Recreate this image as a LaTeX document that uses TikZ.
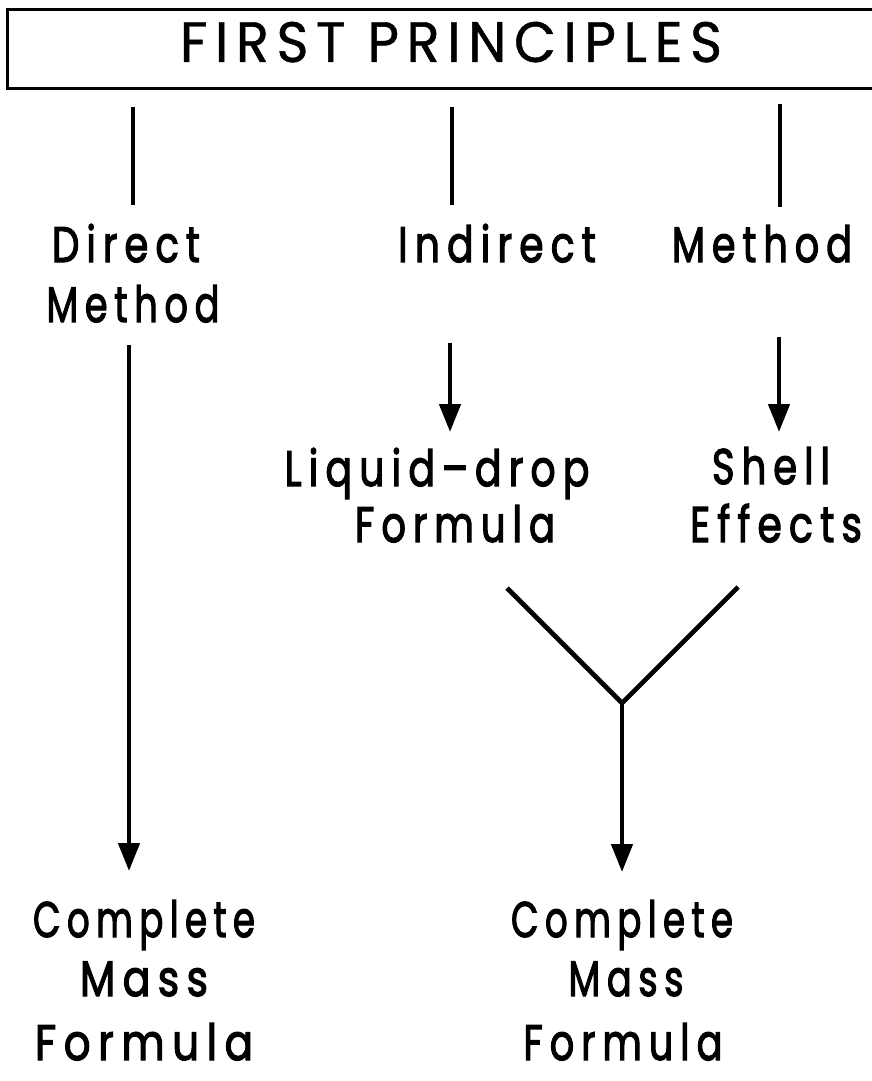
\documentclass[tikz,border=0pt]{standalone}
\usepackage{fontspec}
\usepackage{graphicx}
\usetikzlibrary{arrows.meta}
\newfontfamily\lbl[LetterSpace=18,FakeBold=2.6]{Poppins}
\newfontfamily\ttl[LetterSpace=14,FakeBold=0.8]{Poppins}
\newcommand\fitw[2]{\resizebox{#1}{\height}{#2}}
\begin{document}
\begin{tikzpicture}[x=1pt,y=-1pt,
  lab/.style={font=\lbl\fontsize{50}{60}\selectfont, inner sep=0pt, anchor=base},
  conn/.style={line width=4.6pt},
  arr/.style={conn,-{Triangle[length=28pt,width=21pt]}}]
\useasboundingbox (0,0) rectangle (872,1081);
% top box
\node (box) [draw, line width=3pt, minimum width=884pt, minimum height=78pt, inner sep=0pt] at (449,49) {};
\node (title) [font=\ttl\fontsize{57}{60}\selectfont, inner sep=0pt, anchor=base] at (451,62) {\fitw{542pt}{FIRST PRINCIPLES}};
% labels
\node (direct) [lab] at (126,262) {\fitw{148pt}{Direct}};
\node (method1) [lab] at (133,322) {\fitw{173pt}{Method}};
\node (indirect) [lab] at (497,262) {\fitw{198pt}{Indirect}};
\node (method2) [lab] at (762,262) {\fitw{180pt}{Method}};
\node (liquid) [lab] at (437,486) {\fitw{305pt}{Liquid\,–\,drop}};
\node (formulaA) [lab] at (455,542) {\fitw{200pt}{Formula}};
\node (shell) [lab] at (771,484) {\fitw{118pt}{Shell}};
\node (effects) [lab] at (776,542) {\fitw{172pt}{Effects}};
\node (complete1) [lab] at (144,937) {\fitw{222pt}{Complete}};
\node (mass1) [lab] at (144,996) {\fitw{128pt}{Mass}};
\node (formula1) [lab] at (144,1060) {\fitw{218pt}{Formula}};
\node (complete2) [lab] at (622,937) {\fitw{222pt}{Complete}};
\node (mass2) [lab] at (626,996) {\fitw{115pt}{Mass}};
\node (formula2) [lab] at (623,1060) {\fitw{199pt}{Formula}};
% free ends
\coordinate (l1) at (133,205);
\coordinate (l2) at (452,205);
\coordinate (l3) at (780,207);
\coordinate (a0) at (129,345);
\coordinate (b0) at (450,343);
\coordinate (c0) at (779,337);
\coordinate (ya) at (507,588);
\coordinate (yb) at (738,587);
\coordinate (yj) at (622,703);
% connectors
\draw[conn] ([yshift=-17pt]box.south -| l1) -- (l1);
\draw[conn] ([yshift=-17pt]box.south -| l2) -- (l2);
\draw[conn] ([yshift=-14pt]box.south -| l3) -- (l3);
\draw[arr] (a0) -- (a0 |- 0,871);
\draw[arr] (b0) -- (b0 |- 0,432);
\draw[arr] (c0) -- (c0 |- 0,432);
\draw[conn, line join=miter] (ya) -- (yj) -- (yb);
\draw[arr] (yj) -- (yj |- 0,872);
\end{tikzpicture}
\end{document}
